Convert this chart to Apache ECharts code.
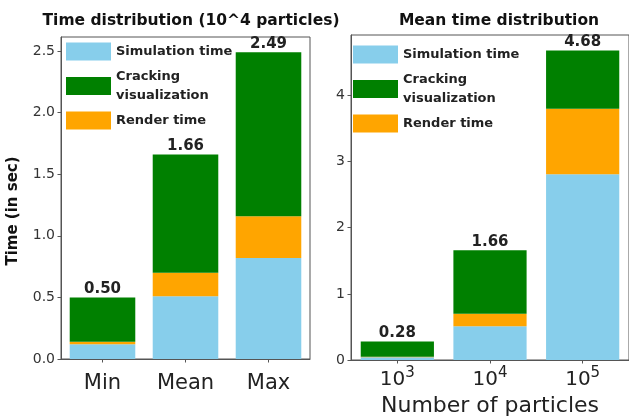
<!DOCTYPE html>
<html>
<head>
<meta charset="utf-8">
<script src="https://cdn.jsdelivr.net/npm/echarts@6/dist/echarts.min.js"></script>
<style>
html,body{margin:0;padding:0;background:#fff;}
#chart{width:629px;height:416px;}
</style>
</head>
<body>
<div id="chart"></div>
<script>
// ---- data ----
const leftCategories = ['Min', 'Mean', 'Max'];
const leftSim = [0.12, 0.51, 0.82];
const leftRender = [0.02, 0.19, 0.34];
const leftCrack = [0.36, 0.96, 1.33];
const leftYTicks = [0, 0.5, 1.0, 1.5, 2.0, 2.5];

const rightCategories = ['10^3', '10^4', '10^5'];
const rightSim = [0.04, 0.51, 2.81];
const rightRender = [0.01, 0.19, 0.99];
const rightCrack = [0.23, 0.96, 0.88];
const rightYTicks = [0, 1, 2, 3, 4];

const seriesNames = ['Simulation time', 'Cracking visualization', 'Render time'];
const colors = {sim: '#87CEEB', crack: '#008000', render: '#FFA500'};

const sum3 = (a, b, c) => a.map((v, i) => +(v + b[i] + c[i]).toFixed(2));
const leftTotals = sum3(leftSim, leftRender, leftCrack);
const rightTotals = sum3(rightSim, rightRender, rightCrack);

const FONT = 'DejaVu Sans';
const axisColor = '#555';

const chart = echarts.init(document.getElementById('chart'), null, {renderer: 'canvas'});

function legendFor(left, top) {
  return {
    orient: 'vertical', left: left, top: top, padding: 0,
    itemWidth: 45, itemHeight: 18, itemGap: 6,
    icon: 'rect',
    data: seriesNames,
    formatter: n => n === 'Cracking visualization' ? 'Cracking\nvisualization' : n,
    textStyle: {fontFamily: FONT, fontWeight: 'bold', fontSize: 13, color: '#222', lineHeight: 19}
  };
}

function yAxisFor(gi, max, ticks, fmt, name) {
  return {
    type: 'value', gridIndex: gi, min: 0, max: max,
    name: name, nameLocation: 'middle', nameGap: 40,
    nameTextStyle: {fontFamily: FONT, fontWeight: 'bold', fontSize: 15, color: '#111', padding: [0, 26, 0, 0]},
    axisLine: {show: true, lineStyle: {color: axisColor, width: 1}},
    axisTick: {show: true, length: 3.5, lineStyle: {color: axisColor}, customValues: ticks},
    axisLabel: {fontFamily: FONT, fontSize: 14, color: '#333', margin: 6, customValues: ticks, formatter: fmt},
    splitLine: {show: false}
  };
}

function xAxisFor(gi, cats, labelOpt) {
  return {
    type: 'category', gridIndex: gi, data: cats,
    axisLine: {show: true, lineStyle: {color: axisColor, width: 1}},
    axisTick: {show: true, alignWithLabel: true, length: 3.5, lineStyle: {color: axisColor}},
    axisLabel: Object.assign({interval: 0, hideOverlap: false}, labelOpt)
  };
}

function barSeries(name, gi, stack, data, color, totals) {
  const s = {
    name: name, type: 'bar', stack: stack, xAxisIndex: gi, yAxisIndex: gi,
    data: data, barWidth: '79%', itemStyle: {color: color},
    emphasis: {disabled: true}
  };
  if (totals) {
    s.label = {
      show: true, position: 'top', distance: 1,
      formatter: p => totals[p.dataIndex].toFixed(2),
      fontFamily: FONT, fontWeight: 'bold', fontSize: 15, color: '#222'
    };
  }
  return s;
}

const option = {
  animation: false,
  backgroundColor: '#fff',
  title: [
    {text: 'Time distribution (10^4 particles)', left: 186, top: 8, textAlign: 'center',
     textStyle: {fontFamily: FONT, fontWeight: 'bold', fontSize: 15.5, color: '#111'}},
    {text: 'Mean time distribution', left: 494, top: 8, textAlign: 'center',
     textStyle: {fontFamily: FONT, fontWeight: 'bold', fontSize: 15.5, color: '#111'}}
  ],
  legend: [legendFor(66, 42), legendFor(353, 45)],
  grid: [
    {left: 61, top: 37, width: 249, height: 322, outerBoundsMode: 'none', containLabel: false,
     show: true, borderColor: axisColor, borderWidth: 1, backgroundColor: 'transparent'},
    {left: 351, top: 35, width: 278, height: 325, outerBoundsMode: 'none', containLabel: false,
     show: true, borderColor: axisColor, borderWidth: 1, backgroundColor: 'transparent'}
  ],
  xAxis: [
    xAxisFor(0, leftCategories, {fontFamily: FONT, fontSize: 21, color: '#222', margin: 14}),
    Object.assign(xAxisFor(1, rightCategories, {
      fontFamily: FONT, color: '#222', margin: 6,
      formatter: v => { const p = v.split('^'); return '{b|' + p[0] + '}{s|' + p[1] + '}'; },
      rich: {
        b: {fontFamily: FONT, fontSize: 20, color: '#222', verticalAlign: 'bottom'},
        s: {fontFamily: FONT, fontSize: 15, color: '#222', verticalAlign: 'bottom', padding: [0, 0, 9, 0]}
      }
    }), {
      name: 'Number of particles', nameLocation: 'middle', nameGap: 30,
      nameTextStyle: {fontFamily: FONT, fontSize: 22, color: '#222'}
    })
  ],
  yAxis: [
    yAxisFor(0, +(Math.max(...leftTotals) * 1.05).toFixed(4), leftYTicks, v => v.toFixed(1), 'Time (in sec)'),
    yAxisFor(1, +(Math.max(...rightTotals) * 1.05).toFixed(4), rightYTicks, v => String(v), '')
  ],
  series: [
    barSeries(seriesNames[0], 0, 'L', leftSim, colors.sim),
    barSeries(seriesNames[2], 0, 'L', leftRender, colors.render),
    barSeries(seriesNames[1], 0, 'L', leftCrack, colors.crack, leftTotals),
    barSeries(seriesNames[0], 1, 'R', rightSim, colors.sim),
    barSeries(seriesNames[2], 1, 'R', rightRender, colors.render),
    barSeries(seriesNames[1], 1, 'R', rightCrack, colors.crack, rightTotals)
  ]
};
chart.setOption(option);
</script>
</body>
</html>
